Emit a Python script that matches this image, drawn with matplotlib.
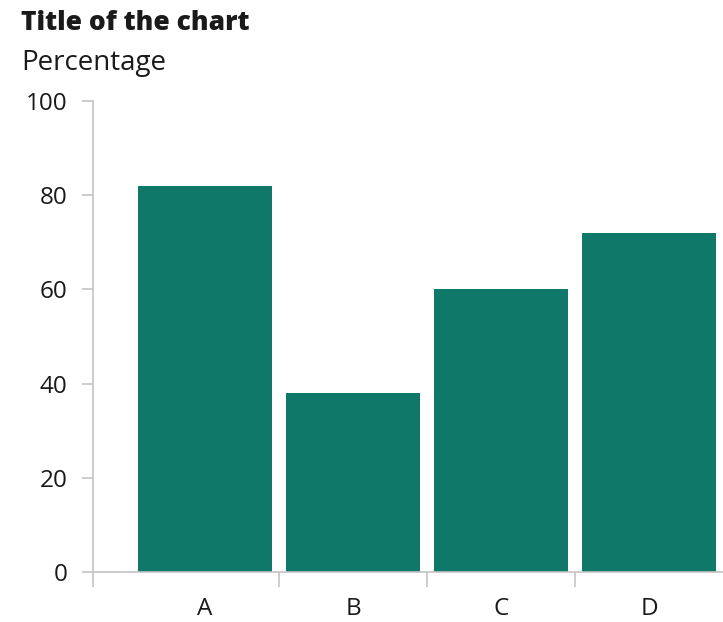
import numpy as np
import matplotlib.pyplot as plt

categories = ["A", "B", "C", "D"]
values = [82, 38, 60, 72]
y_ticks = [0, 20, 40, 60, 80, 100]

plt.rcParams['font.family'] = ['Open Sans', 'DejaVu Sans']

fig = plt.figure(figsize=(7.23, 6.22), dpi=100)
ax = fig.add_axes([93 / 723, 50 / 622, 630 / 723, 471 / 622])

x = np.arange(len(categories))
ax.bar(x, values, width=0.905, color="#0f7868")

xmin = -0.757
ax.set_xlim(xmin, len(categories) - 0.5)
ax.set_ylim(0, 100)

grey = "#c4c4c4"
txt = "#1a1a1a"
for side in ["top", "right"]:
    ax.spines[side].set_visible(False)
for side in ["left", "bottom"]:
    ax.spines[side].set_color(grey)
    ax.spines[side].set_linewidth(1.2)

ax.set_yticks(y_ticks)
ax.tick_params(axis="y", length=8, width=1.2, color=grey, labelsize=17.5,
               labelcolor=txt, pad=10.5)
ax.set_xticks(x)
ax.set_xticklabels(categories)
ax.tick_params(axis="x", which="major", length=0, labelsize=17.5,
               labelcolor=txt, pad=18)
ax.set_xticks([xmin] + list(x[:-1] + 0.5), minor=True)
ax.tick_params(axis="x", which="minor", length=11, width=1.2, color=grey)

fig.text(21 / 723, 1 - 30 / 622, "Title of the chart", fontsize=19,
         fontweight="heavy", color=txt)
fig.text(21 / 723, 1 - 70 / 622, "Percentage", fontsize=20, color=txt)

fig.savefig("out.png", dpi=100)
